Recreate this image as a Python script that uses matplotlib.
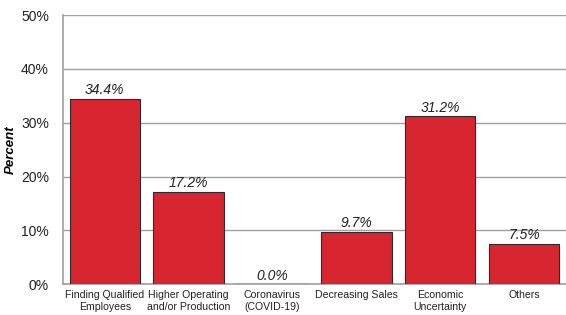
import matplotlib
matplotlib.use('Agg')
import matplotlib.pyplot as plt
from matplotlib.ticker import FuncFormatter

categories = ['Finding Qualified\nEmployees', 'Higher Operating\nand/or Production',
              'Coronavirus\n(COVID-19)', 'Decreasing Sales', 'Economic\nUncertainty', 'Others']
values = [34.4, 17.2, 0.0, 9.7, 31.2, 7.5]

plt.rcParams['font.family'] = ['Liberation Sans', 'DejaVu Sans']

fig = plt.figure(figsize=(5.66, 3.15), dpi=100)
ax = fig.add_axes([0.111, 0.098, 0.889, 0.854])

x = range(len(categories))
ax.bar(x, values, width=0.84, color='#D7262F', edgecolor='#2b2b2b', linewidth=0.8, zorder=3)

for i, v in enumerate(values):
    ax.text(i, v + 0.3, f'{v:.1f}%', ha='center', va='bottom', fontsize=10, style='italic', color='#222222')

ax.set_xlim(-0.5, len(categories) - 0.5)
ax.set_ylim(0, 50)
ax.set_yticks(range(0, 51, 10))
ax.yaxis.set_major_formatter(FuncFormatter(lambda v, p: f'{v:.0f}%'))
ax.set_xticks(list(x))
ax.set_xticklabels(categories, fontsize=7.6, color='#222222', linespacing=1.25)
ax.tick_params(axis='y', labelsize=10, length=0, pad=10, colors='#222222')
ax.tick_params(axis='x', length=0, pad=4)
ax.yaxis.grid(True, color='#a0a0a0', linewidth=1, zorder=0)
ax.set_axisbelow(True)
for s in ['top', 'right']:
    ax.spines[s].set_visible(False)
ax.spines['left'].set_color('#a0a0a0')
ax.spines['bottom'].set_color('#a0a0a0')
ax.spines['left'].set_linewidth(1.2)
ax.spines['bottom'].set_linewidth(1.2)
ax.set_ylabel('Percent', fontsize=9.5, fontweight='bold', style='italic', labelpad=3)

fig.savefig('out.png', dpi=100)
